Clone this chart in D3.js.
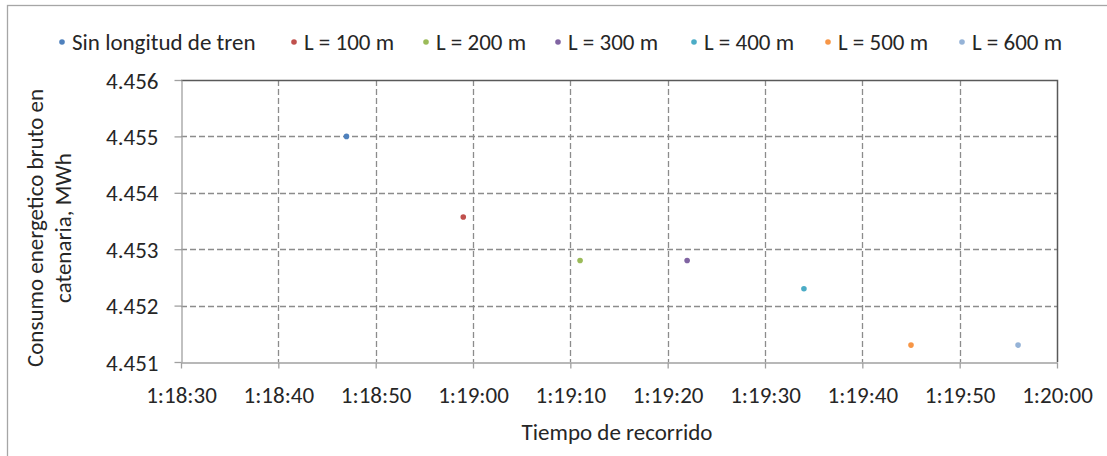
<!DOCTYPE html>
<html><head><meta charset="utf-8">
<script src="https://cdn.jsdelivr.net/npm/d3@7"></script>
<style>
body{margin:0;background:#fff;}
text{font-family:Carlito,Lato,"Open Sans",sans-serif;fill:#262626;}
</style></head>
<body><svg id="c" width="1107" height="456"></svg>
<script>
const seriesNames = ["Sin longitud de tren","L = 100 m","L = 200 m","L = 300 m","L = 400 m","L = 500 m","L = 600 m"];
const seriesTimes = ["1:18:47","1:18:59","1:19:11","1:19:22","1:19:34","1:19:45","1:19:56"];
const seriesValues = [4.4550, 4.45357, 4.4528, 4.4528, 4.4523, 4.4513, 4.4513];
const seriesColors = ["#4F81BD","#C0504D","#9BBB59","#8064A2","#4BACC6","#F79646","#95B3D7"];
const xTickLabels = ["1:18:30","1:18:40","1:18:50","1:19:00","1:19:10","1:19:20","1:19:30","1:19:40","1:19:50","1:20:00"];
const yTicks = [4.451,4.452,4.453,4.454,4.455,4.456];

const toSec = s => { const p = s.split(":").map(Number); return p[0]*3600+p[1]*60+p[2]; };
const fmt = v => { const h=Math.floor(v/3600), m=Math.floor((v%3600)/60), s=Math.round(v%60); return h+":"+String(m).padStart(2,"0")+":"+String(s).padStart(2,"0"); };

const FS = 23;
const svg = d3.select("#c");
const L=181, R=1057, T=80, B=362;
const xTickVals = xTickLabels.map(toSec);
const x = d3.scaleLinear().domain([xTickVals[0], xTickVals[xTickVals.length-1]]).range([L,R]);
const y = d3.scaleLinear().domain([4.451,4.456]).range([B,T]);

// outer border
svg.append("rect").attr("x",7.5).attr("y",5.5).attr("width",1120).attr("height",470)
  .attr("fill","none").attr("stroke","#A6A6A6").attr("stroke-width",1.3);

// grid
svg.append("g").selectAll("line").data(yTicks.slice(1,-1)).join("line")
  .attr("x1",L).attr("x2",R).attr("y1",d=>Math.round(y(d))+0.5).attr("y2",d=>Math.round(y(d))+0.5)
  .attr("stroke","#8C8C8C").attr("stroke-width",1.3).attr("stroke-dasharray","6,3");
svg.append("g").selectAll("line").data(xTickVals.slice(1,-1)).join("line")
  .attr("y1",T).attr("y2",B).attr("x1",d=>Math.round(x(d))+0.5).attr("x2",d=>Math.round(x(d))+0.5)
  .attr("stroke","#8C8C8C").attr("stroke-width",1.3).attr("stroke-dasharray","6,3");

// plot top & right border
svg.append("path").attr("d",`M${L},${T+0.5}H${R+0.5}V${B}`).attr("fill","none").attr("stroke","#595959").attr("stroke-width",1.5);

// axes
const xAxis = d3.axisBottom(x).tickValues(xTickVals).tickFormat(fmt).tickSize(6).tickSizeOuter(0);
const gx = svg.append("g").attr("transform",`translate(0,${B+0.5})`).call(xAxis);
gx.select(".domain").attr("stroke","#A0A0A0").attr("stroke-width",1.3);
gx.selectAll(".tick line").attr("stroke","#A0A0A0").attr("stroke-width",1.3);
gx.selectAll(".tick text").attr("dy","0").attr("y",40).attr("font-size",FS).attr("fill","#262626");

const yAxis = d3.axisLeft(y).tickValues(yTicks).tickFormat(d3.format(".3f")).tickSize(7).tickSizeOuter(0);
const gy = svg.append("g").attr("transform",`translate(${L+0.5},0)`).call(yAxis);
gy.select(".domain").attr("stroke","#A0A0A0").attr("stroke-width",1.3);
gy.selectAll(".tick line").attr("stroke","#A0A0A0").attr("stroke-width",1.3);
gy.selectAll(".tick text").attr("x",-23).attr("dy","0.35em").attr("font-size",FS).attr("fill","#262626");

// points
svg.append("g").selectAll("circle").data(seriesNames.map((n,i)=>i)).join("circle")
  .attr("cx",i=>x(toSec(seriesTimes[i]))).attr("cy",i=>y(seriesValues[i])).attr("r",2.8)
  .attr("fill",i=>seriesColors[i]);

// axis titles
svg.append("text").attr("x",617).attr("y",440).attr("text-anchor","middle").attr("font-size",FS).text("Tiempo de recorrido");
const yt = svg.append("text").attr("transform","translate(0,228) rotate(-90)").attr("text-anchor","middle").attr("font-size",FS);
yt.append("tspan").attr("x",0).attr("y",43).text("Consumo energetico bruto en");
yt.append("tspan").attr("x",0).attr("y",71).text("catenaria, MWh");

// legend
const legX = [62,294,426,558,694,828,962];
const lg = svg.append("g").selectAll("g").data(seriesNames.map((n,i)=>i)).join("g")
  .attr("transform",i=>`translate(${legX[i]},42)`);
lg.append("circle").attr("r",2.8).attr("fill",i=>seriesColors[i]);
lg.append("text").attr("x",10).attr("dy","0.35em").attr("font-size",FS).text(i=>seriesNames[i]);
</script></body></html>
